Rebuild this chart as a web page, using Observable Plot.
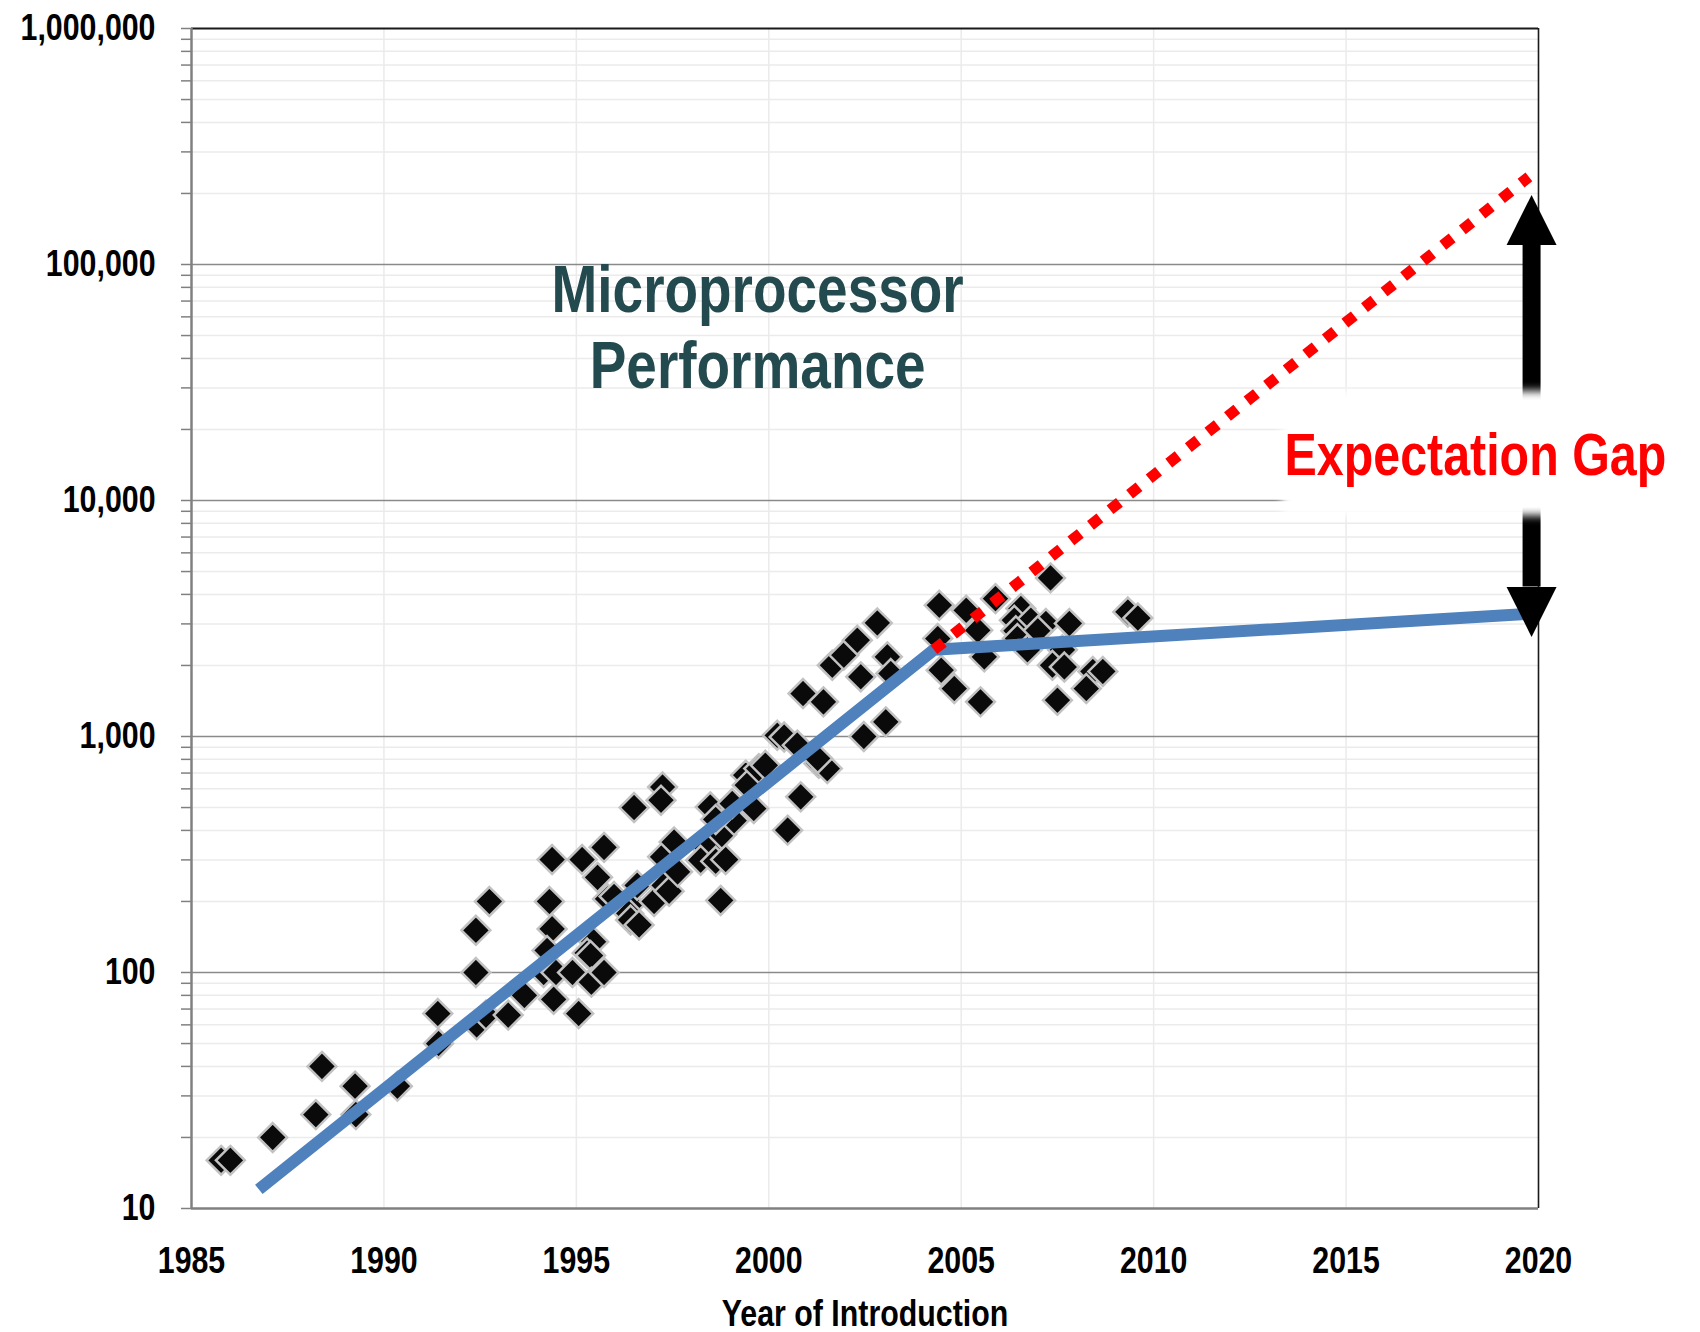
<!DOCTYPE html>
<html>
<head>
<meta charset="utf-8">
<script src="https://cdn.jsdelivr.net/npm/d3@7"></script>
<script src="https://cdn.jsdelivr.net/npm/@observablehq/plot@0.6"></script>
<style>
  html, body { margin: 0; padding: 0; background: #fff; }
  #chart svg { display: block; }
</style>
</head>
<body>
<div id="chart"></div>
<script>
// ---- data ----
const introYear = [
  1985.77, 1986.01, 1987.11, 1988.23, 1988.39, 1989.25, 1989.27, 1990.35,
  1991.40, 1991.42, 1992.39, 1992.39, 1992.74, 1992.41, 1992.65, 1993.23, 1993.65,
  1994.37, 1994.30, 1994.37, 1994.24, 1994.15, 1994.47, 1994.41, 1994.90, 1995.06,
  1995.15, 1995.55, 1995.72, 1995.45, 1995.28, 1995.37, 1995.39, 1995.72, 1995.81, 1995.98,
  1996.50, 1996.41, 1996.36, 1996.41, 1996.63, 1996.58,
  1997.02, 1997.28, 1997.41, 1997.63, 1997.24, 1997.54, 1997.24, 1997.20,
  1998.40, 1998.23, 1998.62, 1998.88, 1998.78, 1998.75, 1999.10, 1998.48, 1999.05, 1998.62, 1999.61,
  1999.40, 1999.44, 1999.74, 1999.91,
  2000.22, 2000.40, 2000.74, 2000.83, 2000.49, 2001.30, 2001.52, 2001.27, 2000.89, 2001.42,
  2001.65, 2001.95, 2002.30, 2002.39, 2002.82, 2003.08, 2003.17, 2003.04, 2002.47,
  2004.43, 2004.39, 2004.48, 2004.82, 2005.13, 2005.43, 2005.60, 2005.50, 2005.89,
  2006.55, 2006.38, 2006.81, 2007.20, 2007.81, 2006.42, 2006.99, 2006.46, 2006.72, 2007.63,
  2007.37, 2007.68, 2008.42, 2008.68, 2008.25, 2007.50, 2007.32, 2009.33, 2009.59
];
const perfValue = [
  16, 16, 20, 25, 40, 33, 25, 33,
  67, 50, 151, 100, 200, 60, 66, 66, 80,
  301, 200, 153, 124, 100, 100, 77, 100, 67,
  301, 253, 339, 135, 121, 118, 91, 100, 205, 210,
  500, 195, 178, 167, 159, 234,
  200, 234, 221, 267, 309, 357, 611, 537,
  335, 299, 296, 301, 385, 202, 440, 503, 520, 445, 495,
  686, 622, 731, 755,
  1012, 995, 919, 555, 401, 769, 731, 807, 1521, 1402,
  2004, 2213, 2559, 1790, 3028, 2175, 1849, 1153, 1000,
  3600, 2600, 1910, 1597, 3427, 2818, 2175, 1402, 3838,
  3483, 3110, 3110, 3013, 3013, 2806, 2806, 2600, 2330, 2330,
  2004, 1970, 1886, 1886, 1597, 1425, 4700, 3370, 3177
];

// trend (actual) and expected continuation
const trendYears = [1986.75, 2004.29, 2020];
const trendPerf = [12.05, 2330, 3330];
const expectYears = [2004.29, 2019.75];
const expectPerf = [2330, 235000];

// axis ticks
const yearTicks = [1985, 1990, 1995, 2000, 2005, 2010, 2015, 2020];
const yearGrid = [1990, 1995, 2000, 2005, 2010, 2015];
const decadeTicks = [10, 100, 1000, 10000, 100000, 1000000];
const minorTicks = [];
for (const d of [10, 100, 1000, 10000, 100000]) for (let k = 2; k <= 9; k++) minorTicks.push(d * k);

// texts
const titleLines = ["Microprocessor", "Performance"];
const gapLabel = "Expectation Gap";
const xLabel = "Year of Introduction";

// annotation anchors (data units)
const arrowYear = 2019.82;
const upShaft = [{x: arrowYear, y1: 26500, y2: 121000}];
const downShaft = [{x: arrowYear, y1: 4300, y2: 9300}];
const upHead = [{x: arrowYear, y: 121000}];
const downHead = [{x: arrowYear, y: 4300}];
const glowBox = [{x1: 2013.35, x2: 2024.4, y1: 8600, y2: 29000}];

const points = introYear.map((x, i) => ({x, y: perfValue[i]}));
const trend = trendYears.map((x, i) => ({x, y: trendPerf[i]}));
const expect = expectYears.map((x, i) => ({x, y: expectPerf[i]}));

const FONT = "'Liberation Sans', Arial, sans-serif";
const NARROW = 0.82; // Arial Narrow look: squeeze bold Arial-metric glyphs

// isoceles triangle head: base at (0,0), tip at (0,-50)
const headSymbol = {
  draw(ctx) {
    ctx.moveTo(-25, 0);
    ctx.lineTo(25, 0);
    ctx.lineTo(0, -50);
    ctx.closePath();
  }
};

const svg = Plot.plot({
  width: 1700,
  height: 1332,
  marginLeft: 191,
  marginRight: 162,
  marginTop: 28,
  marginBottom: 124,
  style: {fontFamily: FONT, fontWeight: "bold", background: "#fff", color: "#000"},
  x: {domain: [1985, 2020], axis: null},
  y: {type: "log", domain: [10, 1e6], axis: null},
  marks: [
    // grid
    Plot.ruleY(minorTicks, {stroke: "#ebebeb", strokeWidth: 1.5}),
    Plot.ruleX(yearGrid, {stroke: "#ebebeb", strokeWidth: 1.5}),
    Plot.ruleY(decadeTicks.slice(1, -1), {stroke: "#8a8a8a", strokeWidth: 1.5}),
    // frame
    Plot.ruleY([1e6], {stroke: "#1a1a1a", strokeWidth: 2}),
    Plot.ruleX([2020], {stroke: "#1a1a1a", strokeWidth: 1.6}),
    Plot.ruleX([1985], {stroke: "#808080", strokeWidth: 2.5}),
    Plot.ruleY([10], {stroke: "#808080", strokeWidth: 2.5}),
    // axes
    Plot.axisY({ticks: decadeTicks.concat(minorTicks), tickSize: 10, tickFormat: () => "", stroke: "#808080", strokeWidth: 1.5, label: null}),
    Plot.axisY({ticks: decadeTicks, tickSize: 0, tickPadding: 36, tickFormat: d3.format(","), fontSize: 37, fontWeight: "bold", fill: "#000", label: null}),
    Plot.axisX({ticks: yearTicks, tickSize: 0, tickPadding: 38, tickFormat: d => String(d), fontSize: 37, fontWeight: "bold", fill: "#000", label: null}),
    Plot.text([xLabel], {frameAnchor: "bottom", dy: 117, lineAnchor: "bottom", fontSize: 37, fontWeight: "bold", fill: "#000"}),
    // title
    Plot.text([titleLines.join("\n")], {x: 1999.71, y: 29900, lineAnchor: "bottom", lineHeight: 1.14, fontSize: 67, fontWeight: "bold", fill: "#234a4e"}),
    // data
    Plot.dot(points, {x: "x", y: "y", symbol: "diamond2", r: 13, fill: "#0a0a0a", stroke: "#c2c2c2", strokeWidth: 2.5}),
    Plot.line(trend, {x: "x", y: "y", stroke: "#4f81bd", strokeWidth: 12, strokeLinejoin: "miter", strokeLinecap: "butt"}),
    Plot.line(expect, {x: "x", y: "y", stroke: "#ff0000", strokeWidth: 11, strokeDasharray: "12,13", strokeLinecap: "butt"}),
    // arrows
    Plot.ruleX(upShaft, {x: "x", y1: "y1", y2: "y2", stroke: "#000", strokeWidth: 18}),
    Plot.ruleX(downShaft, {x: "x", y1: "y1", y2: "y2", stroke: "#000", strokeWidth: 18}),
    Plot.dot(upHead, {x: "x", y: "y", symbol: headSymbol, fill: "#000", stroke: "none"}),
    Plot.dot(downHead, {x: "x", y: "y", symbol: headSymbol, rotate: 180, fill: "#000", stroke: "none"}),
    // soft white box behind the gap label
    Plot.rect(glowBox, {x1: "x1", x2: "x2", y1: "y1", y2: "y2", fill: "#fff", ariaLabel: "glow"}),
    Plot.text([gapLabel], {x: 2018.36, y: 12800, lineAnchor: "bottom", fontSize: 59, fontWeight: "bold", fill: "#ff0000"})
  ]
});

const sel = d3.select(svg);

// squeeze all text horizontally around its own anchor (narrow bold face)
sel.selectAll("text").each(function() {
  const t = this.getAttribute("transform");
  if (t) {
    this.setAttribute("transform", t + ` scale(${NARROW},1)`);
  } else {
    const x = +this.getAttribute("x") || 0, y = +this.getAttribute("y") || 0;
    this.removeAttribute("x"); this.removeAttribute("y");
    this.setAttribute("transform", `translate(${x},${y}) scale(${NARROW},1)`);
  }
});

// blur the white box so its edges fade like a glow
const defs = sel.insert("defs", ":first-child");
const f = defs.append("filter").attr("id", "glowblur")
  .attr("x", "-20%").attr("y", "-50%").attr("width", "140%").attr("height", "200%");
f.append("feGaussianBlur").attr("stdDeviation", 4);
let glowG = sel.select('g[aria-label="glow"]');
if (glowG.empty()) glowG = sel.select('g[aria-label="rect"]');
glowG.attr("filter", "url(#glowblur)");

document.getElementById("chart").appendChild(svg);
</script>
</body>
</html>
